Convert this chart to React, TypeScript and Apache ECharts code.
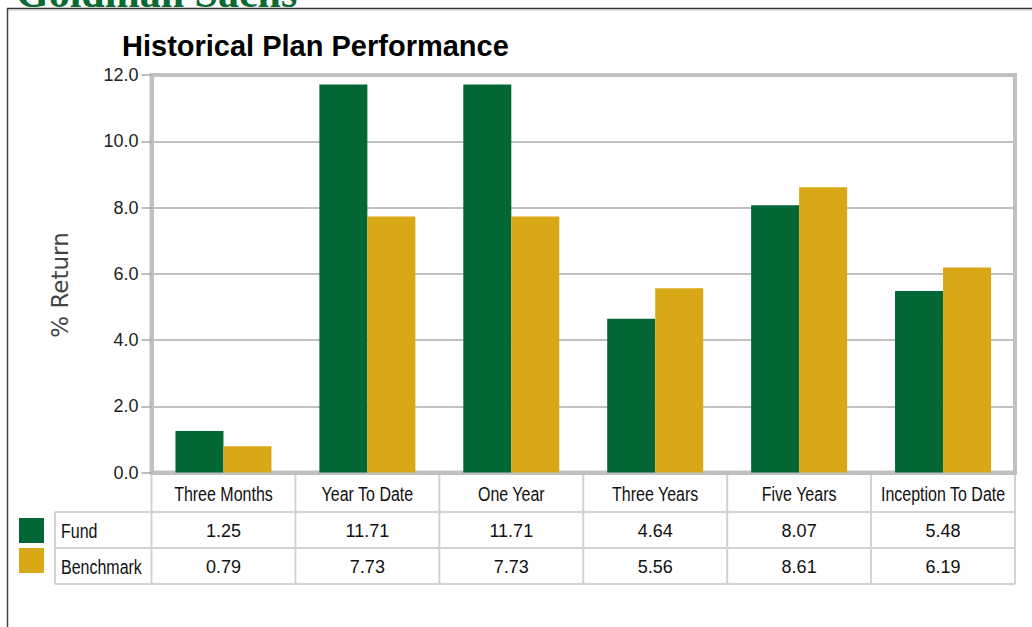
import React, { useEffect, useRef } from "react";
import * as echarts from "echarts";

const categories = ["Three Months", "Year To Date", "One Year", "Three Years", "Five Years", "Inception To Date"];
const fundValues = [1.25, 11.71, 11.71, 4.64, 8.07, 5.48];
const benchmarkValues = [0.79, 7.73, 7.73, 5.56, 8.61, 6.19];
const seriesNames = ["Fund", "Benchmark"];
const titleText = "Historical Plan Performance";
const brandText = "Goldman Sachs";
const yAxisTitle = "% Return";

const GREEN = "#026735";
const GOLD = "#d9a817";
const AXIS_GRAY = "#c0c0c0";
const TABLE_GRAY = "#d2d2d2";
const SANS = "'Liberation Sans', Arial, sans-serif";
const NARROW_SCALE = 0.82;

export default function App() {
  const ref = useRef<HTMLDivElement>(null);

  useEffect(() => {
    document.body.style.margin = "0";
    const el = ref.current!;
    const chart = echarts.init(el, null, { renderer: "svg" });
    const option: any = {
      animation: false,
      backgroundColor: "#ffffff",
      title: {
        text: titleText,
        left: 117,
        top: 26,
        textStyle: { fontFamily: SANS, fontSize: 29, fontWeight: "bold", color: "#000" },
      },
      grid: {
        left: 151.5,
        right: 17,
        top: 75,
        bottom: 154.5,
        show: true,
        borderColor: AXIS_GRAY,
        borderWidth: 4,
        backgroundColor: "transparent",
      },
      xAxis: {
        type: "category",
        data: categories,
        axisLine: { show: true, lineStyle: { color: AXIS_GRAY, width: 4 } },
        axisTick: { show: false },
        axisLabel: { show: false },
        splitLine: { show: false },
      },
      yAxis: {
        type: "value",
        min: 0,
        max: 12,
        interval: 2,
        axisLine: { show: true, lineStyle: { color: AXIS_GRAY, width: 4 } },
        axisTick: { show: true, length: 10, lineStyle: { color: "#a8a8a8", width: 1.5 } },
        axisLabel: {
          margin: 13,
          fontFamily: SANS,
          fontSize: 18,
          color: "#222",
          formatter: (v: number) => v.toFixed(1),
        },
        splitLine: { show: true, lineStyle: { color: AXIS_GRAY, width: 2 } },
      },
      series: [
        {
          name: seriesNames[0],
          type: "bar",
          data: fundValues,
          barWidth: 48,
          barGap: "0%",
          itemStyle: { color: GREEN },
        },
        {
          name: seriesNames[1],
          type: "bar",
          data: benchmarkValues,
          barWidth: 48,
          barGap: "0%",
          itemStyle: { color: GOLD },
        },
      ],
    };
    chart.setOption(option);

    const centers = categories.map((_, i) => chart.convertToPixel({ xAxisIndex: 0 }, i) as number);
    const half = (centers[1] - centers[0]) / 2;
    const bounds = [centers[0] - half, ...centers.map((c) => c + half)];
    const tableRight = bounds[bounds.length - 1];
    const headerTop = 474;
    const rowTops = [512, 548];
    const rowH = 36;
    const tableBottom = rowTops[1] + rowH;
    const labelLeft = 55;

    const g: any[] = [];
    g.push({
      type: "text",
      x: 16,
      y: -7,
      style: {
        text: brandText,
        fontFamily: "'Liberation Serif', 'Times New Roman', serif",
        fontWeight: "bold",
        fontSize: 42,
        fill: "#0b6a32",
        verticalAlign: "middle",
      },
    });
    g.push({ type: "line", shape: { x1: 7, y1: 8.5, x2: 1032, y2: 8.5 }, style: { stroke: "#333", lineWidth: 1.5 } });
    g.push({ type: "line", shape: { x1: 7, y1: 10, x2: 1032, y2: 10 }, style: { stroke: "#c8c8c8", lineWidth: 1 } });
    g.push({ type: "line", shape: { x1: 7.5, y1: 8, x2: 7.5, y2: 627 }, style: { stroke: "#444", lineWidth: 1.5 } });

    g.push({
      type: "text",
      x: 60,
      y: 285,
      rotation: Math.PI / 2,
      style: {
        text: yAxisTitle,
        fontFamily: "'DejaVu Sans', sans-serif",
        fontSize: 23,
        fill: "#444",
        align: "center",
        verticalAlign: "middle",
      },
    });

    bounds.forEach((x) => {
      g.push({ type: "line", shape: { x1: x, y1: headerTop, x2: x, y2: tableBottom }, style: { stroke: TABLE_GRAY, lineWidth: 2 } });
    });
    g.push({ type: "line", shape: { x1: labelLeft, y1: rowTops[0], x2: labelLeft, y2: tableBottom }, style: { stroke: TABLE_GRAY, lineWidth: 2 } });
    [rowTops[0], rowTops[1], tableBottom].forEach((y) => {
      g.push({ type: "line", shape: { x1: labelLeft, y1: y, x2: tableRight, y2: y }, style: { stroke: TABLE_GRAY, lineWidth: 2 } });
    });

    categories.forEach((c, i) => {
      g.push({
        type: "text",
        x: centers[i],
        y: (headerTop + rowTops[0]) / 2 + 1,
        scaleX: NARROW_SCALE,
        style: { text: c, fontFamily: SANS, fontSize: 19.5, fill: "#111", align: "center", verticalAlign: "middle" },
      });
    });

    const rows = [fundValues, benchmarkValues];
    const colors = [GREEN, GOLD];
    rows.forEach((vals, r) => {
      const cy = rowTops[r] + rowH / 2;
      g.push({ type: "rect", shape: { x: 19, y: 518 + r * 30, width: 25, height: 25 }, style: { fill: colors[r] } });
      g.push({
        type: "text",
        x: 61,
        y: cy + 1,
        scaleX: NARROW_SCALE,
        style: { text: seriesNames[r], fontFamily: SANS, fontSize: 19.5, fill: "#111", align: "left", verticalAlign: "middle" },
      });
      vals.forEach((v, i) => {
        g.push({
          type: "text",
          x: centers[i],
          y: cy + 1,
          style: { text: v.toFixed(2), fontFamily: SANS, fontSize: 18, fill: "#111", align: "center", verticalAlign: "middle" },
        });
      });
    });

    chart.setOption({ graphic: { elements: g } });

    return () => chart.dispose();
  }, []);

  return <div ref={ref} style={{ position: "fixed", left: 0, top: 0, width: 1032, height: 627 }} />;
}
